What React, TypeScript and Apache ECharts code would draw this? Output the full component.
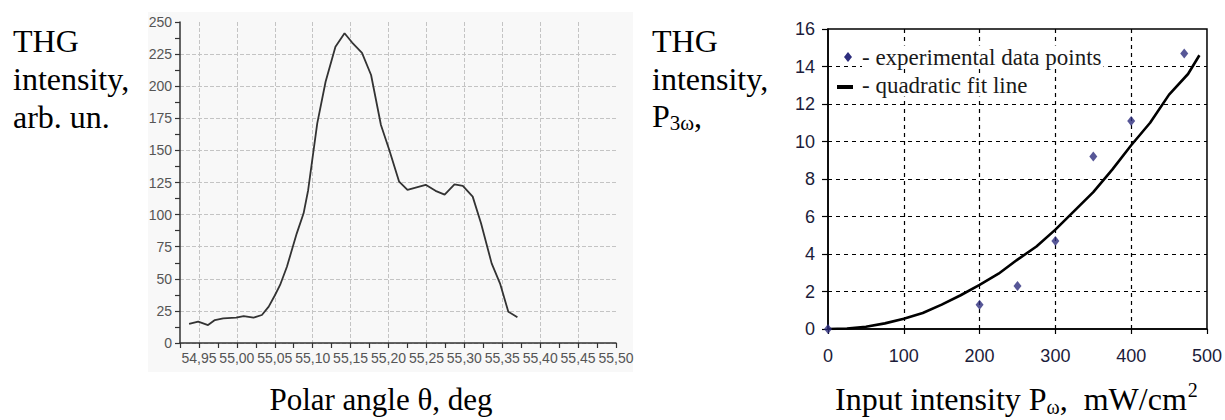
import React, { useEffect, useRef } from 'react';
import * as echarts from 'echarts';

// Left chart: THG intensity vs polar angle
const polarAngle = [54.937, 54.949, 54.962, 54.971, 54.982, 54.999, 55.009, 55.022, 55.033, 55.042, 55.050, 55.057, 55.066, 55.079, 55.088, 55.094, 55.106, 55.117, 55.130, 55.142, 55.152, 55.165, 55.177, 55.190, 55.201, 55.214, 55.225, 55.249, 55.262, 55.274, 55.287, 55.298, 55.311, 55.322, 55.336, 55.347, 55.358, 55.370];
const thgArb = [14.8, 16.6, 14.0, 17.9, 19.2, 19.7, 21.0, 19.7, 21.8, 28.3, 37.0, 45.2, 59.4, 85.4, 101, 119, 171, 203.5, 230.8, 241.2, 234, 226, 208.7, 169.8, 150.3, 125.6, 119.2, 123.2, 118.5, 115.5, 123.5, 122.3, 114, 93.2, 62, 46.5, 24.4, 20];

// Right chart: THG intensity vs input intensity
const inputPower = [0, 200, 250, 300, 350, 400, 470];
const thgP3w = [0, 1.3, 2.3, 4.7, 9.2, 11.1, 14.7];
const fitPower = [0, 25, 50, 75, 100, 125, 150, 175, 200, 225, 250, 275, 300, 325, 350, 375, 400, 425, 450, 475, 490];
const fitTHG = [0, 0.03, 0.12, 0.3, 0.55, 0.85, 1.3, 1.8, 2.35, 2.95, 3.7, 4.4, 5.3, 6.3, 7.3, 8.5, 9.8, 11.0, 12.5, 13.6, 14.6];

const SERIF = '"Liberation Serif", "Times New Roman", serif';
const SANS = '"Liberation Sans", Arial, sans-serif';

const measure = (t: string, font: string) => {
  const c = document.createElement('canvas').getContext('2d');
  if (!c) return t.length * 10;
  c.font = font;
  return c.measureText(t).width;
};

const txt = (text: string, x: number, baseline: number, size: number, extra: any = {}) => ({
  type: 'text',
  z: 50,
  style: {
    text,
    x,
    y: baseline - 0.34 * size,
    font: `${size}px ${SERIF}`,
    fill: '#000',
    align: extra.align || 'left',
    textAlign: extra.align || 'left',
    verticalAlign: 'middle',
    textVerticalAlign: 'middle',
    ...(extra.style || {}),
  },
});

export default function App() {
  const ref = useRef<HTMLDivElement>(null);
  useEffect(() => {
    if (!ref.current) return;
    const chart = echarts.init(ref.current, undefined, { renderer: 'svg' });

    // bottom-right title pieces
    const f32 = `32px ${SERIF}`;
    const f20 = `20px ${SERIF}`;
    const bx = 835;
    const p1 = 'Input intensity P';
    const w1 = measure(p1, f32);
    const w2 = measure('ω', f20);
    const p3 = ',  mW/cm';
    const w3 = measure(p3, f32);

    const fy = `21px ${SERIF}`;
    const rx = 652;
    const wP = measure('P', `32px ${SERIF}`);
    const w3w = measure('3ω', fy);

    const graphics: any[] = [
      { type: 'rect', z: -10, shape: { x: 148, y: 12, width: 485, height: 360 }, style: { fill: '#f8f8f8' } },
      txt('THG', 13, 52, 32),
      txt('intensity,', 13, 90, 32),
      txt('arb. un.', 13, 128, 32),
      txt('Polar angle θ, deg', 381, 410, 31, { align: 'center' }),
      txt('THG', rx, 52, 32),
      txt('intensity,', rx, 90, 32),
      txt('P', rx, 127, 32),
      txt('3ω', rx + wP, 130, 21),
      txt(',', rx + wP + w3w, 127, 32),
      txt(p1, bx, 410, 32),
      txt('ω', bx + w1, 414, 20),
      txt(p3, bx + w1 + w2, 410, 32),
      txt('2', bx + w1 + w2 + w3 + 1, 397, 20),
      // legend
      { type: 'polygon', z: 50, shape: { points: [[848, 52], [852, 57], [848, 62], [844, 57]] }, style: { fill: '#2d2d7d' } },
      {
        type: 'text', z: 50,
        style: { text: '- experimental data points', x: 862, y: 57, font: `23px ${SERIF}`, fill: '#1a1a1a', align: 'left', verticalAlign: 'middle', textAlign: 'left', textVerticalAlign: 'middle', backgroundColor: '#fff', padding: [0, 2, 0, 0] },
      },
      { type: 'line', z: 50, shape: { x1: 837, y1: 87, x2: 853, y2: 87 }, style: { stroke: '#000', lineWidth: 4 } },
      {
        type: 'text', z: 50,
        style: { text: '- quadratic fit line', x: 862, y: 85, font: `23px ${SERIF}`, fill: '#1a1a1a', align: 'left', verticalAlign: 'middle', textAlign: 'left', textVerticalAlign: 'middle', backgroundColor: '#fff', padding: [0, 2, 0, 0] },
      },
    ];

    chart.setOption({
      animation: false,
      backgroundColor: '#fff',
      grid: [
        { left: 180, top: 22, right: 609, bottom: 77 },
        { left: 828, top: 29, right: 17, bottom: 91, show: true, borderColor: '#000', borderWidth: 1.5, backgroundColor: 'transparent' },
      ],
      xAxis: [
        {
          type: 'value', gridIndex: 0, min: 54.925, max: 55.5, interval: 0.025,
          axisLine: { show: true, lineStyle: { color: '#333', width: 1.5 } },
          axisTick: { show: true, length: 5, lineStyle: { color: '#333', width: 1.2 } },
          axisLabel: {
            color: '#555', fontSize: 14, fontFamily: SANS, margin: 8, showMinLabel: true, showMaxLabel: true,
            formatter: (v: number) => (Math.round(v * 1000) % 50 === 0 ? v.toFixed(2).replace('.', ',') : ''),
          },
          splitLine: { show: true, showMaxLine: false, lineStyle: { color: ['transparent', '#c4c4c4'], type: [4, 2], width: 1 } },
        },
        {
          type: 'value', gridIndex: 1, min: 0, max: 500, interval: 100,
          axisLine: { show: true, lineStyle: { color: '#000', width: 1.5 } },
          axisTick: { show: true, length: 5, lineStyle: { color: '#000', width: 1.2 } },
          axisLabel: { color: '#1c1c3a', fontSize: 18, fontFamily: SANS, margin: 18 },
          splitLine: { show: true, showMinLine: false, showMaxLine: false, lineStyle: { color: '#000', type: [4, 4], width: 1.2 } },
        },
      ],
      yAxis: [
        {
          type: 'value', gridIndex: 0, min: 0, max: 250, interval: 12.5,
          axisLine: { show: true, lineStyle: { color: '#333', width: 1.5 } },
          axisTick: { show: true, length: 5, lineStyle: { color: '#333', width: 1.2 } },
          axisLabel: {
            color: '#555', fontSize: 14, fontFamily: SANS, margin: 8,
            formatter: (v: number) => (Math.round(v * 10) % 250 === 0 ? String(v) : ''),
          },
          splitLine: { show: true, showMaxLine: false, lineStyle: { color: ['#c4c4c4', 'transparent'], type: [4, 2], width: 1 } },
        },
        {
          type: 'value', gridIndex: 1, min: 0, max: 16, interval: 2,
          axisLine: { show: true, lineStyle: { color: '#000', width: 1.5 } },
          axisTick: { show: true, length: 6, lineStyle: { color: '#000', width: 1.2 } },
          axisLabel: { color: '#1c1c3a', fontSize: 18, fontFamily: SANS, margin: 13 },
          splitLine: { show: true, showMinLine: false, showMaxLine: false, lineStyle: { color: '#000', type: [4, 4], width: 1.2 } },
        },
      ],
      series: [
        {
          type: 'line', xAxisIndex: 0, yAxisIndex: 0, showSymbol: false, symbol: 'none',
          data: polarAngle.map((a, i) => [a, thgArb[i]]),
          lineStyle: { color: '#333', width: 1.8 },
        },
        {
          type: 'line', xAxisIndex: 1, yAxisIndex: 1, showSymbol: false, symbol: 'none',
          data: fitPower.map((p, i) => [p, fitTHG[i]]),
          lineStyle: { color: '#000', width: 2.6 },
        },
        {
          type: 'scatter', xAxisIndex: 1, yAxisIndex: 1, symbol: 'diamond', symbolSize: [8, 10],
          data: inputPower.map((p, i) => [p, thgP3w[i]]),
          itemStyle: { color: '#2d2d7d' },
          z: 5,
        },
      ],
      graphic: graphics,
    });
    return () => chart.dispose();
  }, []);
  return <div ref={ref} style={{ position: 'absolute', left: 0, top: 0, width: 1225, height: 420 }} />;
}
